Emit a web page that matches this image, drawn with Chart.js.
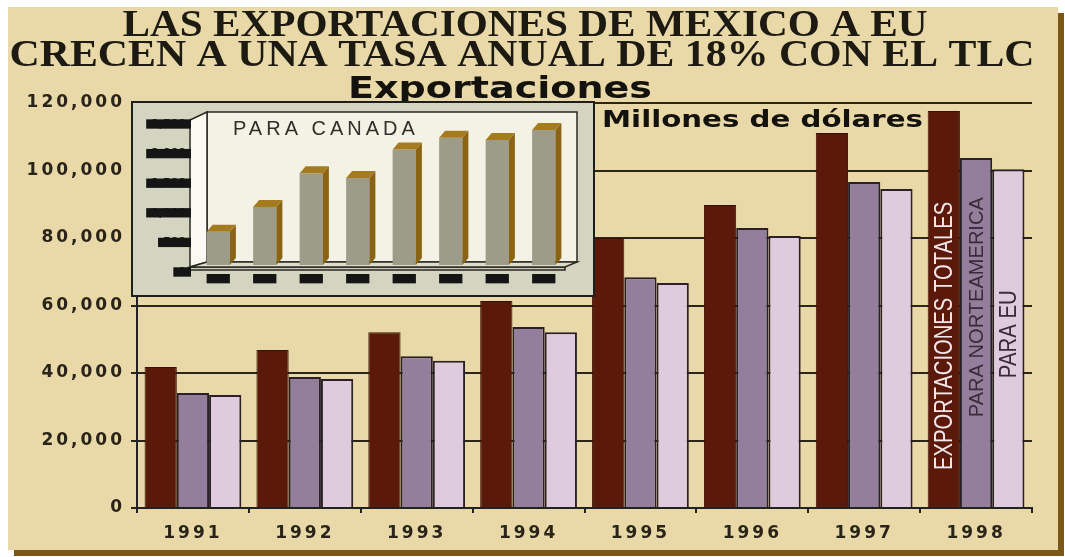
<!DOCTYPE html>
<html>
<head>
<meta charset="utf-8">
<script src="https://cdn.jsdelivr.net/npm/chart.js@4.4.1/dist/chart.umd.min.js"></script>
<style>
  body { margin: 0; background: #fff; }
  #board { position: relative; width: 1065px; height: 557px; overflow: hidden; }
  #panel {
    position: absolute; left: 8px; top: 7px; width: 1050px; height: 543px;
    background: #e9d9a8; box-shadow: 6px 6px 0 #7d5715;
  }
  #exportsChart { position: absolute; left: 0; top: 0; }
  #inset {
    position: absolute; left: 131px; top: 101px; width: 464px; height: 196px;
    box-sizing: border-box; border: 2px solid #1e1e1a; background: #d4d5c1;
  }
</style>
</head>
<body>
<div id="board">
  <div id="panel"></div>
  <canvas id="exportsChart" width="1065" height="557"></canvas>
  <div id="inset"><canvas id="canadaChart" width="460" height="192"></canvas></div>
</div>
<script>
const titleLines = [
  "LAS EXPORTACIONES DE MEXICO A EU",
  "CRECEN A UNA TASA ANUAL DE 18% CON EL TLC",
];
const chartHeading = "Exportaciones";
const unitLabel = "Millones de dólares";

const years = ["1991", "1992", "1993", "1994", "1995", "1996", "1997", "1998"];
const seriesNames = ["EXPORTACIONES TOTALES", "PARA NORTEAMERICA", "PARA EU"];
const totalExports = [41800, 46800, 52100, 61300, 80000, 89800, 111100, 117600];
const northAmerica = [34100, 38800, 45000, 53600, 68400, 83000, 96600, 103700];
const toUS = [33500, 38200, 43600, 52100, 66700, 80600, 94500, 100400];

const canadaTitle = "PARA CANADA";
const canadaYears = ["91", "92", "93", "94", "95", "96", "97", "98"];
const toCanada = [560, 980, 1550, 1470, 1950, 2150, 2110, 2280];

const SANS = "'DejaVu Sans', sans-serif";

// canvas letterSpacing, set once before each chart draws
const letterSpacing = {
  id: "letterSpacing",
  beforeDraw: (chart, args, opts) => {
    chart.ctx.letterSpacing = opts.value || "0px";
  },
};

// draws text squeezed/stretched to a given width
const drawFitted = (ctx, text, font, x, y, width, align) => {
  ctx.save();
  ctx.letterSpacing = "0px";
  ctx.font = font;
  const w = ctx.measureText(text).width;
  ctx.translate(x, y);
  ctx.scale(width / w, 1);
  ctx.textAlign = align;
  ctx.textBaseline = "alphabetic";
  ctx.fillText(text, 0, 0);
  ctx.restore();
};

const headings = {
  id: "headings",
  afterDraw: (chart) => {
    const { ctx } = chart;
    ctx.save();
    ctx.fillStyle = "#1d1a12";
    const serif = "bold 38px 'Liberation Serif', serif";
    drawFitted(ctx, titleLines[0], serif, 525, 36, 805, "center");
    drawFitted(ctx, titleLines[1], serif, 522, 66, 1025, "center");
    ctx.fillStyle = "#14120c";
    drawFitted(ctx, chartHeading, `bold 30px ${SANS}`, 500, 98, 304, "center");
    drawFitted(ctx, unitLabel, `bold 23px ${SANS}`, 602, 127, 321, "left");
    ctx.restore();
  },
};

// series names written up the last bar of each series
const seriesLabels = {
  id: "seriesLabels",
  afterDatasetsDraw: (chart, args, opts) => {
    const { ctx } = chart;
    const yScale = chart.scales.y;
    chart.data.datasets.forEach((ds, i) => {
      const bar = chart.getDatasetMeta(i).data.at(-1);
      const item = opts.items[i];
      ctx.save();
      ctx.letterSpacing = "0px";
      ctx.translate(bar.x, yScale.getPixelForValue(item.center));
      ctx.rotate(-Math.PI / 2);
      ctx.font = `${item.size}px 'Liberation Sans', sans-serif`;
      const w = ctx.measureText(ds.label).width;
      ctx.scale(item.length / w, 1);
      ctx.fillStyle = item.color;
      ctx.textAlign = "center";
      ctx.textBaseline = "middle";
      ctx.fillText(ds.label, 0, 1);
      ctx.restore();
    });
  },
};

new Chart(document.getElementById("exportsChart"), {
  type: "bar",
  data: {
    labels: years,
    datasets: [
      {
        label: seriesNames[0],
        data: totalExports,
        backgroundColor: "#5b1a09",
        borderColor: "#3a1005",
        borderWidth: 1,
      },
      {
        label: seriesNames[1],
        data: northAmerica,
        backgroundColor: "#937f9b",
        borderColor: "#2a2028",
        borderWidth: 2,
      },
      {
        label: seriesNames[2],
        data: toUS,
        backgroundColor: "#dfcbde",
        borderColor: "#2a2028",
        borderWidth: 2,
      },
    ],
  },
  options: {
    responsive: false,
    animation: false,
    layout: { padding: { top: 103, right: 33, bottom: 0, left: 0 } },
    datasets: { bar: { categoryPercentage: 0.865, barPercentage: 1 } },
    plugins: {
      legend: { display: false },
      tooltip: { enabled: false },
      letterSpacing: { value: "3px" },
      seriesLabels: {
        items: [
          { center: 51000, length: 268, size: 25, color: "#f4e6ec" },
          { center: 59500, length: 220, size: 21, color: "#3a2b3b" },
          { center: 51500, length: 88, size: 23, color: "#3a2b3b" },
        ],
      },
    },
    scales: {
      x: {
        grid: { drawOnChartArea: false, tickLength: 5, color: "#222", lineWidth: 2 },
        border: { color: "#222", width: 2 },
        ticks: {
          color: "#2a2418",
          font: { family: SANS, size: 17, weight: "bold" },
          padding: 10,
        },
        afterFit: (scale) => {
          scale.height = 49;
        },
      },
      y: {
        min: 0,
        max: 120000,
        grid: { color: "#2b2618", lineWidth: 2, tickLength: 6 },
        border: { color: "#222", width: 2 },
        ticks: {
          stepSize: 20000,
          color: "#2a2418",
          font: { family: SANS, size: 17, weight: "bold" },
          padding: 6,
          callback: (v) => v.toLocaleString("en-US"),
        },
        afterFit: (scale) => {
          scale.width = 137;
        },
      },
    },
  },
  plugins: [letterSpacing, seriesLabels, headings],
});

// back wall, side wall and floor of the small 3D chart
const canadaFrame = {
  id: "canadaFrame",
  beforeDraw: (chart) => {
    const { ctx } = chart;
    const { left: L, right: R, top: T, bottom: B } = chart.chartArea;
    ctx.save();
    ctx.strokeStyle = "#2a2a24";
    ctx.lineWidth = 1.5;
    const poly = (pts, fill) => {
      ctx.beginPath();
      pts.forEach(([x, y], i) => (i ? ctx.lineTo(x, y) : ctx.moveTo(x, y)));
      ctx.closePath();
      ctx.fillStyle = fill;
      ctx.fill();
      ctx.stroke();
    };
    poly([[L + 12, T - 5], [R + 10, T - 5], [R + 10, B - 3], [L + 12, B - 3]], "#f4f2e4");
    poly([[L - 5, T + 3], [L + 12, T - 5], [L + 12, B - 3], [L - 5, B + 2]], "#fbfaf2");
    poly([[L - 5, B + 2], [R - 2, B + 2], [R - 2, B + 5], [L - 5, B + 5]], "#c9cab7");
    poly([[L - 5, B + 2], [L + 12, B - 3], [R + 10, B - 3], [R - 2, B + 2]], "#dcdccc");

    ctx.letterSpacing = "4px";
    ctx.font = "20px 'Liberation Sans', sans-serif";
    ctx.fillStyle = "#2f2f2c";
    ctx.textBaseline = "alphabetic";
    ctx.fillText(canadaTitle, L + 38, T + 18);
    ctx.restore();
  },
};

// gold top and side faces on each bar
const bars3d = {
  id: "bars3d",
  afterDatasetsDraw: (chart) => {
    const { ctx } = chart;
    const dx = 6;
    const dy = 7;
    ctx.save();
    chart.getDatasetMeta(0).data.forEach((bar) => {
      const l = bar.x - bar.width / 2;
      const r = bar.x + bar.width / 2;
      ctx.fillStyle = "#8a6414";
      ctx.beginPath();
      ctx.moveTo(r, bar.y);
      ctx.lineTo(r + dx, bar.y - dy);
      ctx.lineTo(r + dx, bar.base - dy);
      ctx.lineTo(r, bar.base);
      ctx.closePath();
      ctx.fill();
      ctx.fillStyle = "#a57b20";
      ctx.beginPath();
      ctx.moveTo(l, bar.y);
      ctx.lineTo(l + dx, bar.y - dy);
      ctx.lineTo(r + dx, bar.y - dy);
      ctx.lineTo(r, bar.y);
      ctx.closePath();
      ctx.fill();
    });
    ctx.restore();
  },
};

// tick labels in the small chart print as solid black blocks
const blockTicks = {
  color: "#151515",
  font: { family: SANS, size: 11, weight: "bold", lineHeight: 0.85 },
  showLabelBackdrop: true,
  backdropColor: "#151515",
  backdropPadding: { top: 0, bottom: 0, left: 5, right: 5 },
  padding: 9,
};

new Chart(document.getElementById("canadaChart"), {
  type: "bar",
  data: {
    labels: canadaYears,
    datasets: [
      {
        label: canadaTitle,
        data: toCanada,
        backgroundColor: "#9c9c89",
        categoryPercentage: 1,
        barPercentage: 0.5,
      },
    ],
  },
  options: {
    responsive: false,
    animation: false,
    layout: { padding: { top: 14, right: 26, bottom: 0, left: 0 } },
    plugins: {
      legend: { display: false },
      tooltip: { enabled: false },
      letterSpacing: { value: "0px" },
    },
    scales: {
      x: {
        grid: { display: false, drawTicks: false },
        border: { display: false },
        ticks: { ...blockTicks, backdropPadding: { top: 0, bottom: 0, left: 4, right: 4 } },
        afterFit: (scale) => {
          scale.height = 30;
        },
      },
      y: {
        min: 0,
        max: 2500,
        grid: { display: false, drawTicks: false },
        border: { display: false },
        ticks: {
          ...blockTicks,
          stepSize: 500,
          labelOffset: 7,
          callback: (v) => v.toLocaleString("en-US"),
        },
        afterFit: (scale) => {
          scale.width = 62;
        },
      },
    },
  },
  plugins: [letterSpacing, canadaFrame, bars3d],
});
</script>
</body>
</html>
